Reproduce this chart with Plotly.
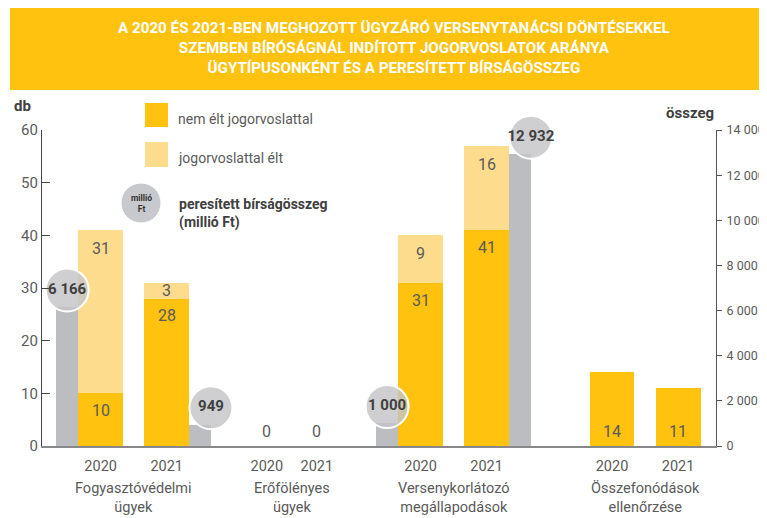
import plotly.graph_objects as go

# data
categories = ["Fogyasztóvédelmi<br>ügyek", "Erőfölényes<br>ügyek",
              "Versenykorlátozó<br>megállapodások", "Összefonódások<br>ellenőrzése"]
years = ["2020", "2021"]
no_appeal_2020 = [10, 0, 31, 14]
no_appeal_2021 = [28, 0, 41, 11]
appealed_2020 = [31, 0, 9, 0]
appealed_2021 = [3, 0, 16, 0]
fine_2020 = [6166, 0, 1000, 0]
fine_2021 = [949, 0, 12932, 0]

# layout constants (pixels of the 767x518 reference)
W, H = 767, 518
OFF = 8  # the page body adds an 8px margin
L, R, T, B = 42, 716, 130, 446
group_center = [2.04, 5.56, 9.16, 13.42]
year_half = [0.735, 0.556, 0.735, 0.735]
DARK = "#FEC20F"
LIGHT = "#FEDC8E"
GREY = "#BCBDC1"
TXT = "#5a5a5a"
FONT = "Roboto"


def px_x(px):
    return (px - L) / (R - L)


def px_y(py):
    return (B - py) / (B - T)


def fmt(v):
    return f"{v:,}".replace(",", " ")


xs, dark, light, ticks = [], [], [], []
gx, gv, bx = [], [], []
for i in range(len(categories)):
    for j, yr in enumerate(years):
        side = -1 if j == 0 else 1
        x = group_center[i] + side * year_half[i]
        xs.append(x)
        ticks.append(yr)
        dark.append([no_appeal_2020, no_appeal_2021][j][i])
        light.append([appealed_2020, appealed_2021][j][i])
        f = [fine_2020, fine_2021][j][i]
        if f:
            gx.append(x + side * 0.745)
            gv.append(f)
            # bubbles of the 2021 bars sit a little to the right
            bx.append(x + side * 0.745 + (0.24 if j == 1 else 0))

fig = go.Figure()
fig.add_trace(go.Bar(x=xs, y=dark, width=1.0, marker_color=DARK, marker_line_width=0,
                     name="nem élt jogorvoslattal", hoverinfo="y"))
fig.add_trace(go.Bar(x=xs, y=light, width=1.0, marker_color=LIGHT, marker_line_width=0,
                     name="jogorvoslattal élt", hoverinfo="y"))
fig.add_trace(go.Bar(x=gx, y=gv, width=0.49, marker_color=GREY, marker_line_width=0,
                     yaxis="y2", name="peresített bírságösszeg", hoverinfo="y"))
fig.add_trace(go.Scatter(
    x=bx, y=[v + 750 for v in gv], yaxis="y2", mode="markers+text",
    text=[fmt(v) for v in gv], textposition="middle center",
    textfont=dict(family=FONT, size=15, color="#404040", weight="bold"),
    marker=dict(size=43, color="rgba(196,197,200,0.82)", line=dict(color="white", width=2)),
    cliponaxis=False, hoverinfo="skip", showlegend=False))

ann = []
for x, v, a in zip(xs, dark, light):
    if a > 0:
        ann.append(dict(x=x, y=v - 3.3, text=str(v)))
        ya = v + a - 3.5 if a >= 7 else v + a / 2
        ann.append(dict(x=x, y=ya, text=str(a)))
    else:
        ann.append(dict(x=x, y=2.8, text=str(v)))
for a in ann:
    a.update(xref="x", yref="y", showarrow=False, xanchor="center", yanchor="middle",
             font=dict(family=FONT, size=16, color=TXT))

# category names under the years
for c, name in zip(group_center, categories):
    ann.append(dict(x=c, xref="x", y=px_y(498), yref="paper", text=name, showarrow=False,
                    xanchor="center", yanchor="middle",
                    font=dict(family=FONT, size=14.5, color=TXT), align="center"))


def note(px, py, text, size, color, bold=False, anchor="center", align="center"):
    return dict(x=px_x(px), y=px_y(py), xref="paper", yref="paper", showarrow=False,
                xanchor=anchor, yanchor="middle", align=align, text=text,
                font=dict(family=FONT, size=size, color=color,
                          weight="bold" if bold else "normal"))


ann += [
    note(394, 48, "A 2020 ÉS 2021-BEN MEGHOZOTT ÜGYZÁRÓ VERSENYTANÁCSI DÖNTÉSEKKEL<br>"
                  "SZEMBEN BÍRÓSÁGNÁL INDÍTOTT JOGORVOSLATOK ARÁNYA<br>"
                  "ÜGYTÍPUSONKÉNT ÉS A PERESÍTETT BÍRSÁGÖSSZEG", 15.2, "white", True),
    note(22, 106, "db", 15, "#404040", True),
    note(690, 113, "összeg", 15, "#404040", True),
    note(176, 119, "nem élt jogorvoslattal", 14, TXT, anchor="left"),
    note(176, 158, "jogorvoslattal élt", 14, TXT, anchor="left"),
    note(177, 213, "peresített bírságösszeg<br>(millió Ft)", 14, "#404040", True,
         anchor="left", align="left"),
    note(141, 203, "millió<br>Ft", 8.5, "#333", True),
]

shapes = [
    dict(type="rect", xref="paper", yref="paper", x0=px_x(10), x1=px_x(780),
         y0=px_y(90), y1=px_y(0), fillcolor=DARK, line_width=0, layer="below"),
    dict(type="rect", xref="paper", yref="paper", x0=px_x(145), x1=px_x(168),
         y0=px_y(127), y1=px_y(103), fillcolor=DARK, line_width=0),
    dict(type="rect", xref="paper", yref="paper", x0=px_x(145), x1=px_x(168),
         y0=px_y(167), y1=px_y(142), fillcolor=LIGHT, line_width=0),
    dict(type="circle", xref="paper", yref="paper", x0=px_x(121), x1=px_x(161),
         y0=px_y(223), y1=px_y(183), fillcolor="#C8C9CC", line=dict(color="white", width=1)),
]

fig.update_layout(
    width=W - OFF, height=H - OFF,
    margin=dict(l=L - OFF, r=W - R, t=T - OFF, b=H - B, pad=0),
    paper_bgcolor="white", plot_bgcolor="white", barmode="stack", bargap=0,
    showlegend=False, separators=", ", font=dict(family=FONT, color=TXT),
    annotations=ann, shapes=shapes,
    xaxis=dict(range=[0, 15], tickvals=xs, ticktext=ticks, ticks="", showgrid=False,
               zeroline=False, showline=True, linecolor="#888", linewidth=1.5,
               tickfont=dict(size=14.5, color=TXT), ticklabelstandoff=6, automargin=False),
    yaxis=dict(range=[0, 60], tickvals=list(range(0, 61, 10)), ticks="inside", ticklen=8,
               tickcolor="#444", showgrid=False, zeroline=False, showline=True,
               linecolor="#444", linewidth=1.2, tickfont=dict(size=15, color=TXT),
               automargin=False),
    yaxis2=dict(range=[0, 14000], tickvals=list(range(0, 14001, 2000)), tickformat=",d",
                overlaying="y", side="right", ticks="outside", ticklen=5, tickcolor="#555",
                showgrid=False, zeroline=False, showline=True, linecolor="#555", linewidth=1.2,
                tickfont=dict(size=12.5, color=TXT), ticklabelstandoff=2, automargin=False),
)

fig.write_html("out.html")
